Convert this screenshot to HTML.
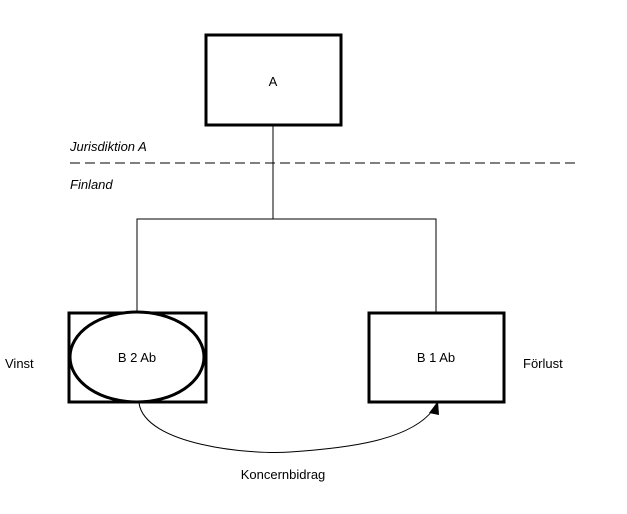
<!DOCTYPE html>
<html><head><style>
body{margin:0;background:#fff;}
svg{display:block;font-family:"Liberation Sans",Arial,sans-serif;}
</style></head><body>
<svg width="627" height="514" viewBox="0 0 627 514">
<rect x="206" y="35" width="135" height="90" fill="#fff" stroke="#000" stroke-width="3"/>
<text x="273" y="86" font-size="13" text-anchor="middle">A</text>
<line x1="273" y1="126" x2="273" y2="219" stroke="#000" stroke-width="1"/>
<line x1="70" y1="163" x2="580" y2="163" stroke="#000" stroke-width="1" stroke-dasharray="10,5"/>
<text x="70" y="151" font-size="13" font-style="italic">Jurisdiktion A</text>
<text x="70" y="189" font-size="13" font-style="italic">Finland</text>
<polyline points="137,312 137,219 436,219 436,312" fill="none" stroke="#000" stroke-width="1"/>
<rect x="69" y="313" width="137" height="89" fill="#fff" stroke="#000" stroke-width="3"/>
<ellipse cx="137" cy="357" rx="67" ry="45" fill="#fff" stroke="#000" stroke-width="3"/>
<text x="137" y="362" font-size="13" text-anchor="middle">B 2 Ab</text>
<rect x="369" y="313" width="135" height="89" fill="#fff" stroke="#000" stroke-width="3"/>
<text x="436" y="362" font-size="13" text-anchor="middle">B 1 Ab</text>
<text x="5" y="368" font-size="13">Vinst</text>
<text x="523" y="368" font-size="13">Förlust</text>
<path d="M139,403 C145,445 250,455 290,452 C350,448 410,440 433,410" fill="none" stroke="#000" stroke-width="1"/>
<polygon points="438,401 429,413 439,415" fill="#000"/>
<text x="283" y="479" font-size="13" text-anchor="middle">Koncernbidrag</text>
</svg>
</body></html>
